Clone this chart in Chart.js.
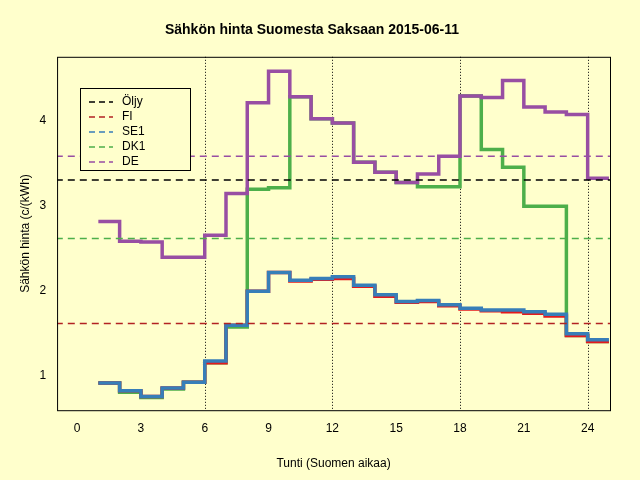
<!DOCTYPE html><html><head><script src="https://cdn.jsdelivr.net/npm/chart.js"></script>
<style>body{margin:0;background:#ffffcc}#w{width:640px;height:480px}</style></head><body><div id="w"><canvas id="c"></canvas></div>
<script>
const hours=[1,2,3,4,5,6,7,8,9,10,11,12,13,14,15,16,17,18,19,20,21,22,23,24,25];
const FI=[0.91,0.82,0.75,0.85,0.92,1.15,1.59,1.99,2.21,2.11,2.13,2.14,2.05,1.93,1.86,1.87,1.82,1.78,1.76,1.75,1.73,1.70,1.47,1.40,1.40];
const SE1=[0.91,0.82,0.75,0.85,0.92,1.17,1.59,1.99,2.21,2.12,2.14,2.16,2.06,1.95,1.87,1.88,1.83,1.79,1.77,1.77,1.75,1.72,1.49,1.42,1.42];
const DK1=[0.91,0.80,0.74,0.84,0.92,1.15,1.57,3.19,3.21,4.28,4.02,3.97,3.51,3.39,3.27,3.22,3.22,4.29,3.66,3.45,2.99,2.99,1.47,1.40,1.40];
const DE=[2.81,2.58,2.57,2.39,2.39,2.65,3.14,4.21,4.58,4.28,4.02,3.97,3.51,3.39,3.27,3.37,3.58,4.29,4.27,4.47,4.16,4.10,4.07,3.32,3.32];
const avgOil=3.30, avgFI=1.61, avgDK1=2.61, avgDE=3.58;
const xTicks=[0,3,6,9,12,15,18,21,24];
const vLines=[6,12,18,24];
const col={oil:'#000000',FI:'#b22222',SE1:'#377eb8',DK1:'#4daf4a',DE:'#984ea3'};
const F='"Liberation Sans", Arial, sans-serif';
const pts=a=>{const r=a.map((v,i)=>({x:hours[i],y:v}));return [{x:hours[0],y:a[0]}].concat(r.slice(1));};
const hl=(v)=>[{x:-1,y:v},{x:26,y:v}];
const line=(d,c)=>({data:d.map((v,i)=>({x:hours[i],y:i<d.length-1?v:d[i-1]})),borderColor:c,borderWidth:3.5,stepped:'before',pointRadius:0,fill:false});
const dash=(v,c)=>({data:hl(v),borderColor:c,borderWidth:1.5,borderDash:[7,5],pointRadius:0});
const leg=[['Öljy',col.oil],['FI',col.FI],['SE1',col.SE1],['DK1',col.DK1],['DE',col.DE]];
const bg={id:'bg',beforeDraw(ch){const c=ch.ctx;c.save();c.fillStyle='#ffffcc';c.fillRect(0,0,ch.width,ch.height);
const a=ch.chartArea,x=ch.scales.x;c.strokeStyle='#000';c.lineWidth=1;c.setLineDash([1,2]);
vLines.forEach(v=>{const p=Math.round(x.getPixelForValue(v))+0.5;c.beginPath();c.moveTo(p,a.top);c.lineTo(p,a.bottom);c.stroke();});c.restore();},
afterDraw(ch){const c=ch.ctx,a=ch.chartArea;c.save();c.strokeStyle='#000';c.lineWidth=1;c.strokeRect(a.left+0.5,a.top+0.5,a.right-a.left,a.bottom-a.top);
c.fillStyle='#ffffcc';c.fillRect(80,88,110,82);c.strokeRect(80.5,88.5,110,82);
c.font='12px '+F;c.textBaseline='middle';
leg.forEach((l,i)=>{const y=102+i*15;c.strokeStyle=l[1];c.lineWidth=1.5;c.setLineDash([6,4]);c.beginPath();c.moveTo(89,y);c.lineTo(113,y);c.stroke();c.setLineDash([]);c.fillStyle='#000';c.fillText(l[0],122,y);});c.restore();}};
new Chart(document.getElementById('c'),{type:'line',data:{datasets:[
dash(avgOil,col.oil),dash(avgFI,col.FI),dash(avgDK1,col.DK1),dash(avgDE,col.DE),
line(DE,col.DE),line(SE1,col.SE1),line(FI,'#e41a1c'),line(DK1,col.DK1)]},
options:{responsive:true,maintainAspectRatio:false,animation:false,layout:{padding:{left:14,right:30,top:0,bottom:5}},
plugins:{legend:{display:false},tooltip:{enabled:false},title:{display:true,text:'Sähkön hinta Suomesta Saksaan 2015-06-11',font:{family:F,size:14,weight:'bold'},color:'#000',padding:{top:22,bottom:18}}},
scales:{x:{type:'linear',min:-0.94,max:25.05,afterBuildTicks:s=>{s.ticks=xTicks.map(v=>({value:v}))},grid:{display:false},border:{display:false},ticks:{color:'#000',font:{family:F,size:12}},
title:{display:true,text:'Tunti (Suomen aikaa)',color:'#000',font:{family:F,size:12},padding:{top:18}}},
y:{min:0.59,max:4.75,afterBuildTicks:s=>{s.ticks=[1,2,3,4].map(v=>({value:v}))},grid:{display:false},border:{display:false},ticks:{color:'#000',font:{family:F,size:12},callback:v=>v},
title:{display:true,text:'Sähkön hinta (c/(kWh)',color:'#000',font:{family:F,size:12}}}}},plugins:[bg]});
</script></body></html>
